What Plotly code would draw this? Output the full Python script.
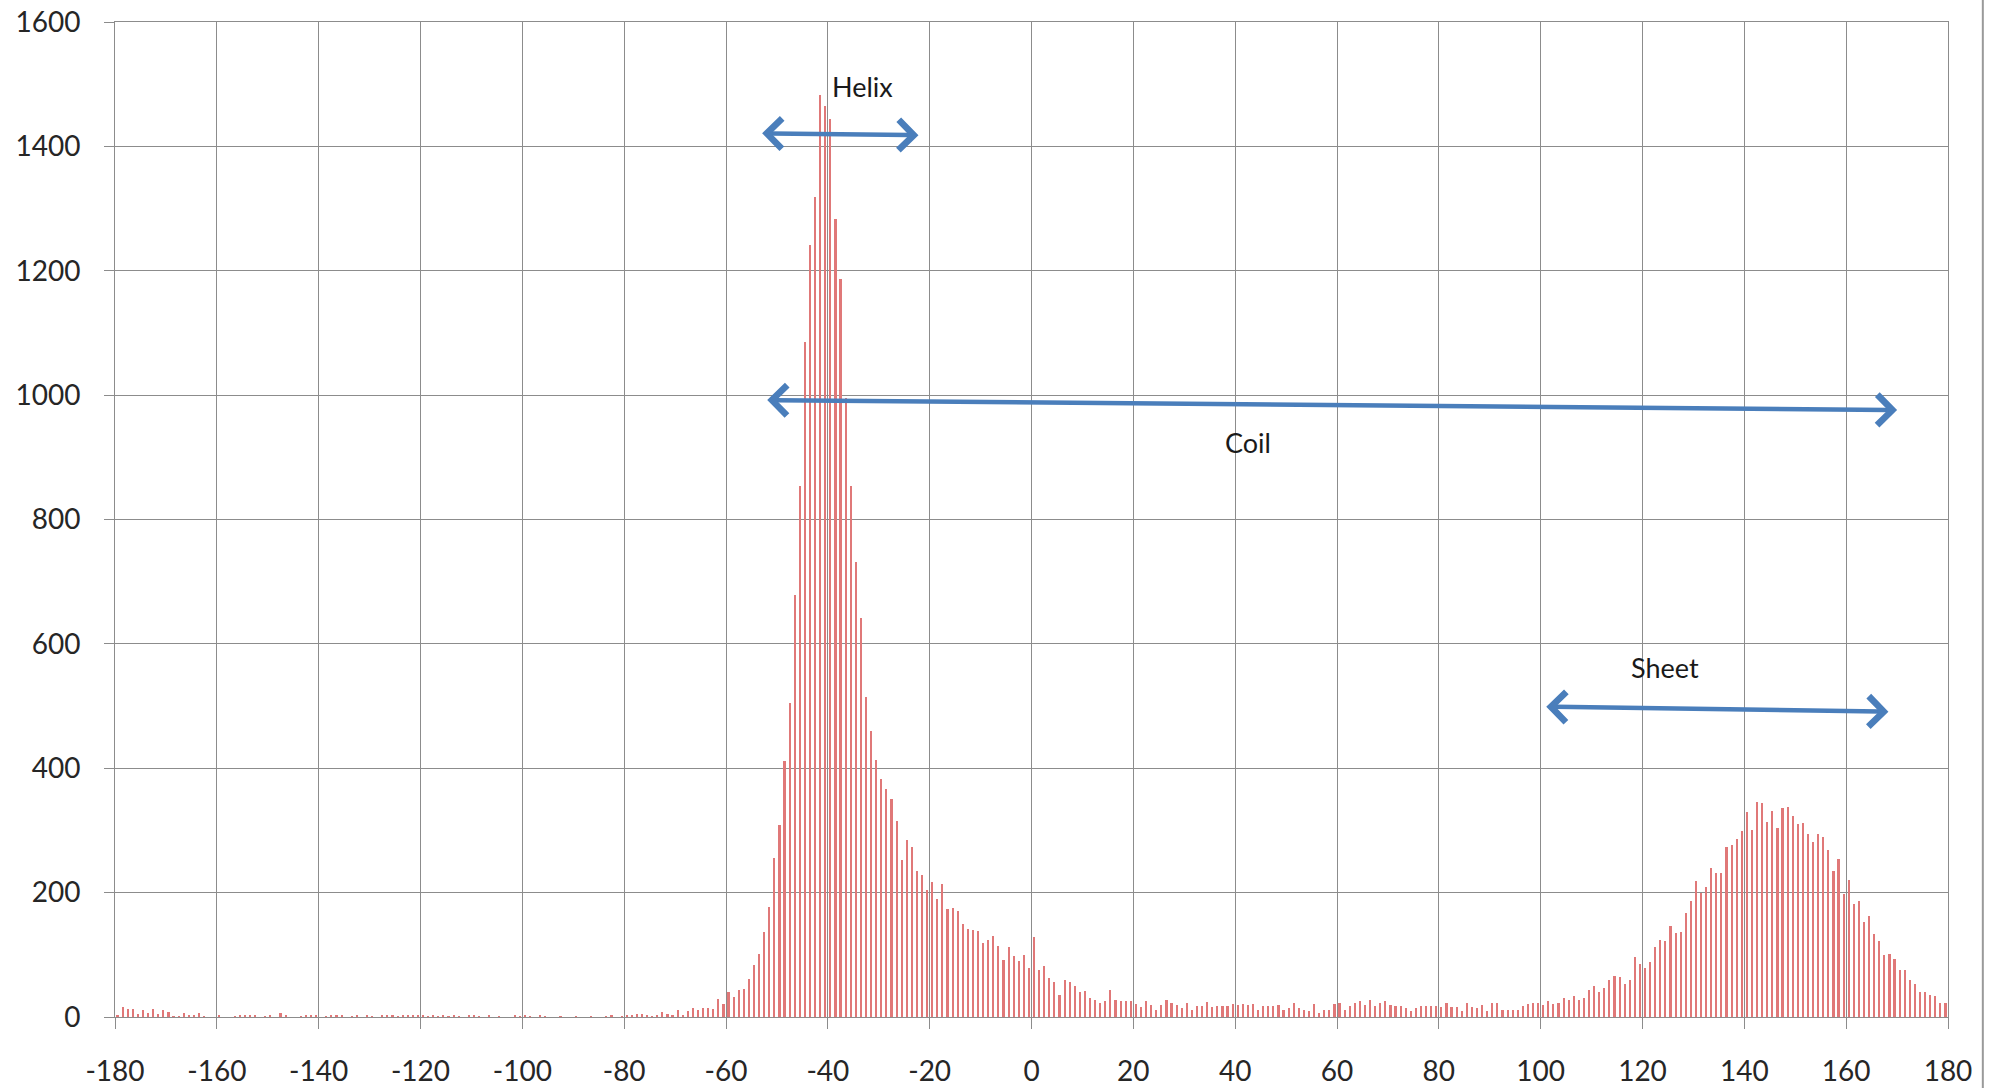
import numpy as np
import plotly.graph_objects as go

# Bin centres of the 1-degree histogram (-179.5 ... 179.5)
bin_centers = np.arange(-179.5, 180.0, 1.0)

# counts, bin by bin
counts_far_neg = [  # -179.5 .. -110.5
    2, 16, 13, 13, 5, 12, 6, 13, 5, 12,
    8, 1, 1, 6, 4, 4, 6, 1, 0, 0,
    2, 0, 0, 1, 4, 3, 3, 2, 0, 1,
    2, 0, 6, 2, 0, 0, 1, 3, 3, 3,
    0, 1, 2, 2, 2, 0, 1, 2, 0, 4,
    1, 0, 3, 4, 4, 1, 3, 4, 3, 2,
    2, 1, 2, 1, 4, 1, 4, 1, 0, 3,
]
counts_pre_helix = [  # -109.5 .. -57.5
    4, 1, 0, 2, 0, 1, 0, 0, 2, 1,
    3, 1, 0, 2, 1, 0, 0, 1, 0, 0,
    1, 0, 0, 1, 0, 0, 1, 2, 0, 1,
    2, 3, 5, 5, 2, 1, 2, 8, 5, 4,
    11, 4, 9, 14, 12, 14, 14, 13, 29, 21,
    40, 32, 44,
]
counts_helix = [  # -56.5 .. -0.5
    45, 61, 84, 101, 136, 177, 255, 308, 411, 505,
    679, 854, 1086, 1242, 1318, 1482, 1465, 1444, 1283, 1187,
    995, 854, 732, 641, 515, 460, 414, 382, 366, 350,
    315, 252, 284, 274, 234, 229, 204, 217, 190, 214,
    174, 176, 170, 150, 142, 140, 138, 119, 124, 130,
    114, 92, 113, 98, 90, 100, 78,
]
counts_coil = [  # 0.5 .. 99.5
    128, 75, 82, 62, 56, 36, 60, 56, 50, 40,
    42, 30, 27, 23, 25, 44, 27, 25, 25, 25,
    21, 16, 25, 19, 12, 19, 27, 22, 19, 15,
    22, 11, 17, 17, 24, 16, 17, 18, 18, 21,
    19, 21, 20, 21, 12, 18, 18, 18, 19, 11,
    14, 22, 14, 11, 10, 21, 6, 11, 12, 21,
    23, 11, 17, 23, 25, 19, 27, 17, 23, 26,
    20, 18, 17, 14, 9, 14, 17, 17, 17, 18,
    16, 23, 16, 16, 9, 23, 16, 14, 19, 10,
    22, 22, 12, 12, 12, 11, 17, 21, 22, 22,
]
counts_sheet = [  # 100.5 .. 179.5
    20, 26, 21, 23, 31, 28, 34, 27, 31, 44,
    50, 40, 46, 60, 66, 64, 53, 60, 96, 86,
    78, 88, 112, 124, 122, 146, 135, 136, 168, 186,
    218, 200, 209, 240, 232, 232, 273, 276, 286, 299,
    330, 300, 346, 344, 314, 331, 304, 336, 338, 324,
    311, 312, 295, 281, 294, 290, 268, 235, 254, 198,
    220, 181, 186, 153, 162, 133, 122, 99, 102, 94,
    76, 75, 59, 53, 40, 40, 36, 34, 23, 23,
]
counts = counts_far_neg + counts_pre_helix + counts_helix + counts_coil + counts_sheet

x_ticks = list(range(-180, 181, 20))
y_ticks = list(range(0, 1601, 200))

# annotation arrows (data coordinates)
arrow_labels = ["Helix", "Coil", "Sheet"]
arrow_x0 = [-53.2, -52.2, 100.8]
arrow_y0 = [1421, 992, 499]
arrow_x1 = [-22.2, 170.0, 168.3]
arrow_y1 = [1418, 976, 491]
label_x = [-33.2, 42.5, 124.5]
label_y = [1496, 924, 562]

GRID = "#8c8c8c"
BLUE = "#4a7ebb"
FONT = "Lato"

fig = go.Figure()
fig.add_trace(go.Bar(
    x=bin_centers[:len(counts)], y=counts,
    width=0.42,
    marker=dict(color="#e07878", line=dict(width=0)),
    showlegend=False,
))

annotations = []
for lab, x0, y0, x1, y1, lx, ly in zip(arrow_labels, arrow_x0, arrow_y0, arrow_x1, arrow_y1, label_x, label_y):
    annotations.append(dict(
        x=x1, y=y1, ax=x0, ay=y0, xref="x", yref="y", axref="x", ayref="y",
        text="", showarrow=True, arrowhead=4, startarrowhead=4,
        arrowside="end+start", arrowwidth=4.5, arrowsize=1.3, startarrowsize=1.3,
        arrowcolor=BLUE,
    ))
    annotations.append(dict(
        x=lx, y=ly, xref="x", yref="y", text=lab, showarrow=False,
        font=dict(family=FONT, size=27, color="#1a1a1a"),
    ))

fig.update_layout(
    width=1996, height=1088,
    margin=dict(l=115, r=48, t=22, b=71),
    paper_bgcolor="white", plot_bgcolor="white",
    bargap=0,
    annotations=annotations,
    shapes=[dict(type="line", xref="paper", yref="paper",
                 x0=1.019, x1=1.019, y0=-0.075, y1=1.03,
                 line=dict(color="#9a9a9a", width=2))],
)
fig.update_xaxes(
    range=[-180, 180], tickvals=x_ticks, ticktext=[str(v) for v in x_ticks],
    showgrid=True, gridcolor=GRID, gridwidth=1,
    ticks="outside", ticklen=11, tickcolor=GRID, tickwidth=1,
    showline=True, linecolor=GRID, linewidth=1, mirror=True,
    zeroline=False, ticklabelstandoff=18, automargin=False,
    ticklabeloverflow="allow",
    tickfont=dict(family=FONT, size=28, color="#262626"),
)
fig.update_yaxes(
    range=[0, 1600], tickvals=y_ticks,
    showgrid=True, gridcolor=GRID, gridwidth=1,
    ticks="outside", ticklen=10, tickcolor=GRID, tickwidth=1,
    showline=True, linecolor=GRID, linewidth=1, mirror=True,
    zeroline=False, ticklabelstandoff=18, automargin=False,
    ticklabeloverflow="allow",
    tickfont=dict(family=FONT, size=28, color="#262626"),
)

fig.write_html(
    "out.html",
    config={"displayModeBar": False},
    post_script="document.body.style.margin='0';document.body.style.overflow='hidden';",
)
